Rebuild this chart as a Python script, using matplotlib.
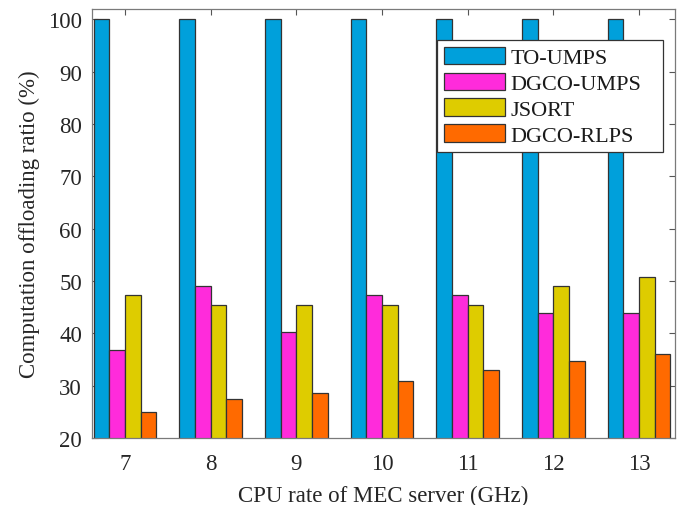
import numpy as np
import matplotlib
matplotlib.use("Agg")
import matplotlib.pyplot as plt

# CPU rates of the MEC server (GHz)
cpu_rates = [7, 8, 9, 10, 11, 12, 13]

# Computation offloading ratio (%) for each scheme
to_umps = [100, 100, 100, 100, 100, 100, 100]
dgco_umps = [36.9, 49.1, 40.3, 47.3, 47.3, 43.8, 43.8]
jsort = [47.3, 45.5, 45.5, 45.5, 45.5, 49.1, 50.7]
dgco_rlps = [24.9, 27.4, 28.6, 30.9, 33.0, 34.7, 36.1]

series_names = ["TO-UMPS", "DGCO-UMPS", "JSORT", "DGCO-RLPS"]
series_values = [to_umps, dgco_umps, jsort, dgco_rlps]
colors = ["#00A0DB", "#FF2BDB", "#DECC00", "#FF6A00"]

plt.rcParams["font.family"] = ["Liberation Serif", "DejaVu Serif"]
plt.rcParams["mathtext.fontset"] = "stix"

fig = plt.figure(figsize=(6.9, 5.06), dpi=100)
ax = fig.add_axes([0.1329, 0.1324, 0.8454, 0.8478])

x = np.array(cpu_rates, dtype=float)
bw = 0.183
n = len(series_values)
for i, (name, vals, c) in enumerate(zip(series_names, series_values, colors)):
    offs = (i - (n - 1) / 2) * bw
    ax.bar(x + offs, vals, width=bw, bottom=0, color=c, edgecolor="#333333",
           linewidth=0.9, label=name, zorder=2)

ax.set_xlim(6.61, 13.42)
ax.set_ylim(20, 102)
ax.set_xticks(cpu_rates)
ax.set_yticks(np.arange(20, 101, 10))

fs = 16.5
ax.tick_params(direction="in", length=4, width=0.8, color="#555555",
               labelsize=fs, top=True, right=True)
ax.tick_params(axis="x", pad=10.5)
ax.tick_params(axis="y", pad=7)
for lab in ax.get_xticklabels() + ax.get_yticklabels():
    lab.set_color("#262626")
for sp in ax.spines.values():
    sp.set_color("#7a7a7a")
    sp.set_linewidth(0.9)

ax.set_xlabel("CPU rate of MEC server (GHz)", fontsize=fs, color="#262626", labelpad=8)
ax.set_ylabel("Computation offloading ratio (%)", fontsize=fs, color="#262626", labelpad=6)

# legend box spanning a fixed width in figure pixels
W, H = 690.0, 506.0
lx0, lx1, ly0, ly1 = 437.0, 663.0, 41.0, 152.0
leg = ax.legend(loc="upper left",
                bbox_to_anchor=(lx0 / W, 1 - ly1 / H, (lx1 - lx0) / W, (ly1 - ly0) / H),
                bbox_transform=fig.transFigure, mode="expand",
                fontsize=16, frameon=True,
                fancybox=False, edgecolor="#333333", framealpha=1,
                handlelength=2.75, handleheight=0.83, handletextpad=0.27,
                labelspacing=0.2, borderpad=0.3, borderaxespad=0)
leg.get_frame().set_linewidth(0.9)
for t in leg.get_texts():
    t.set_color("#1a1a1a")

fig.savefig("out.png", dpi=100)
